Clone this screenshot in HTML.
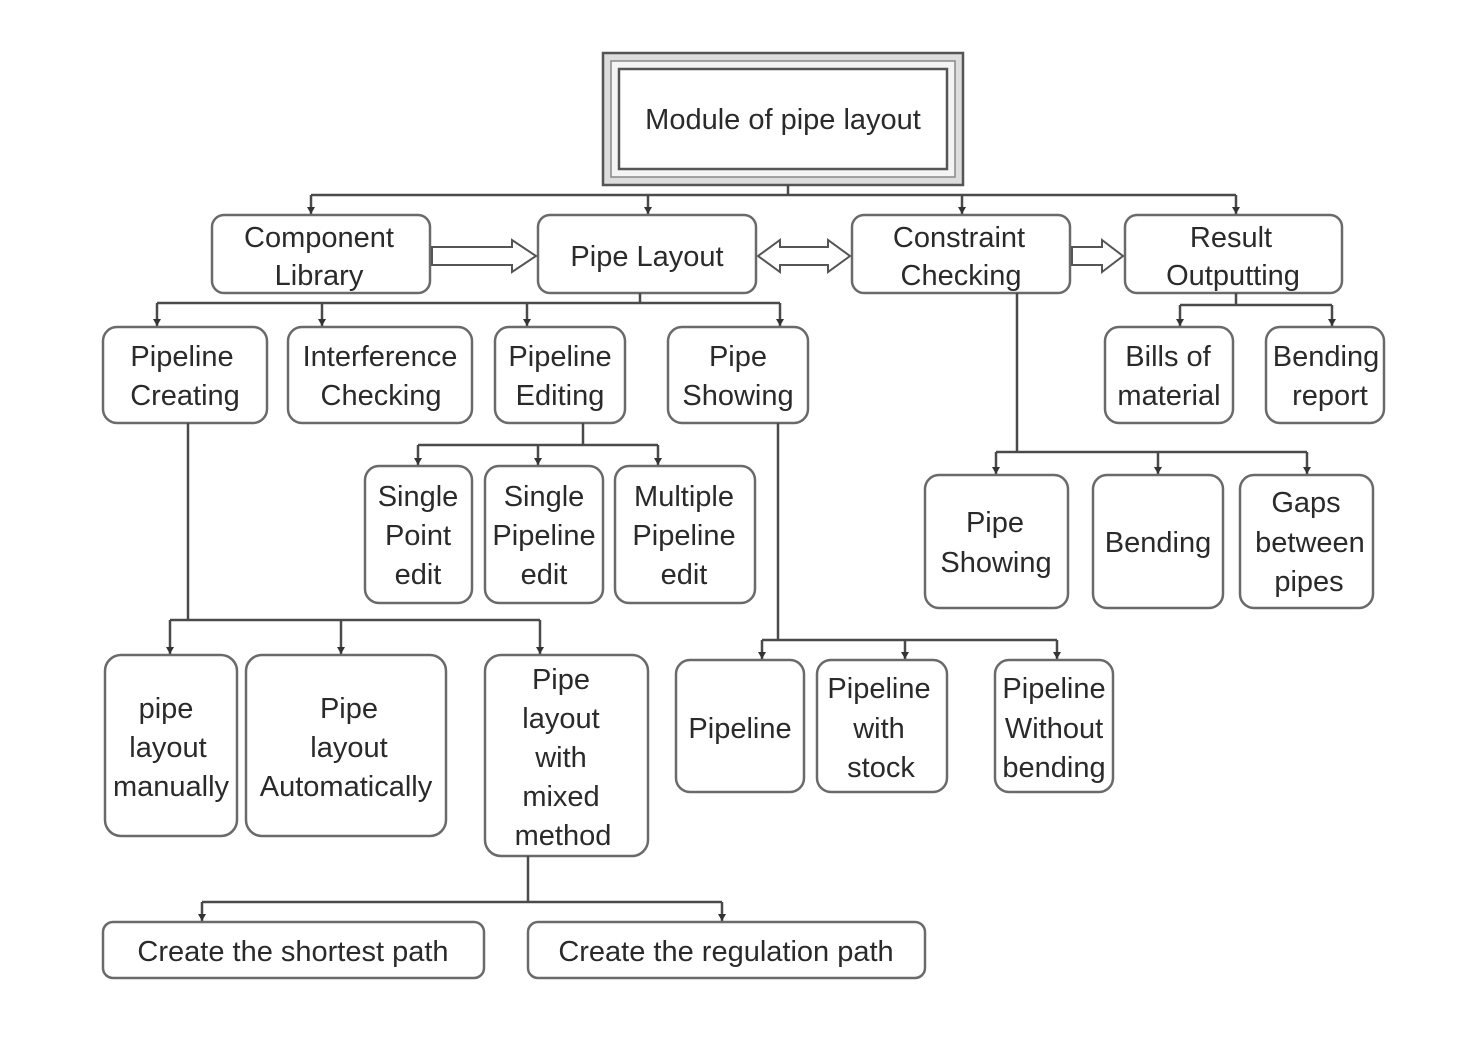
<!DOCTYPE html>
<html><head><meta charset="utf-8"><style>
html,body{margin:0;padding:0;background:#fff}
svg{display:block}
text{font-family:"Liberation Sans",sans-serif;font-size:29px;fill:#2a2a2a;text-anchor:middle}
.b{fill:#fff;stroke:#6a6a6a;stroke-width:2.5}
.l{stroke:#4a4a4a;stroke-width:2.5;fill:none}
.a{fill:#333}
</style></head><body>
<svg width="1464" height="1040" viewBox="0 0 1464 1040" xmlns="http://www.w3.org/2000/svg">
<defs><marker id="m" markerWidth="8" markerHeight="8" refX="7" refY="4" orient="auto" markerUnits="userSpaceOnUse"><path d="M0,0 L7,4 L0,8 z" class="a"/></marker></defs>
<rect x="603" y="53" width="360" height="132" fill="#ddd" stroke="#555" stroke-width="2.5"/>
<rect x="611" y="61" width="344" height="116" fill="#f4f4f4" stroke="#888" stroke-width="1.5"/>
<rect x="619" y="69" width="328" height="100" fill="#fff" stroke="#555" stroke-width="2.5"/>
<text x="783" y="129">Module of pipe layout</text>
<path class="l" d="M788 185V195M311 195H1236"/>
<path class="l" d="M311 195V214" marker-end="url(#m)"/>
<path class="l" d="M648 195V214" marker-end="url(#m)"/>
<path class="l" d="M962 195V214" marker-end="url(#m)"/>
<path class="l" d="M1236 195V214" marker-end="url(#m)"/>
<rect class="b" x="212" y="215" width="218" height="78" rx="12"/>
<text x="319" y="247">Component</text><text x="319" y="285">Library</text>
<rect class="b" x="538" y="215" width="218" height="78" rx="12"/>
<text x="647" y="266">Pipe Layout</text>
<rect class="b" x="852" y="215" width="218" height="78" rx="12"/>
<text x="959" y="247">Constraint</text><text x="961" y="285">Checking</text>
<rect class="b" x="1125" y="215" width="217" height="78" rx="12"/>
<text x="1231" y="247">Result</text><text x="1233" y="285">Outputting</text>
<polygon points="432,247 512,247 512,240 536,256 512,272 512,265 432,265" fill="#fff" stroke="#555" stroke-width="2"/>
<polygon points="758,256 780,240 780,247 828,247 828,240 850,256 828,272 828,265 780,265 780,272" fill="#fff" stroke="#555" stroke-width="2"/>
<polygon points="1072,247 1102,247 1102,240 1123,256 1102,272 1102,265 1072,265" fill="#fff" stroke="#555" stroke-width="2"/>
<path class="l" d="M640 293V303M157 303H780"/>
<path class="l" d="M157 303V326" marker-end="url(#m)"/>
<path class="l" d="M322 303V326" marker-end="url(#m)"/>
<path class="l" d="M527 303V326" marker-end="url(#m)"/>
<path class="l" d="M780 303V326" marker-end="url(#m)"/>
<rect class="b" x="103" y="327" width="164" height="96" rx="14"/>
<text x="182" y="366">Pipeline</text><text x="185" y="405">Creating</text>
<rect class="b" x="288" y="327" width="184" height="96" rx="14"/>
<text x="380" y="366">Interference</text><text x="381" y="405">Checking</text>
<rect class="b" x="495" y="327" width="130" height="96" rx="14"/>
<text x="560" y="366">Pipeline</text><text x="560" y="405">Editing</text>
<rect class="b" x="668" y="327" width="140" height="96" rx="14"/>
<text x="738" y="366">Pipe</text><text x="738" y="405">Showing</text>
<path class="l" d="M1236 293V305M1180 305H1332"/>
<path class="l" d="M1180 305V326" marker-end="url(#m)"/>
<path class="l" d="M1332 305V326" marker-end="url(#m)"/>
<rect class="b" x="1105" y="327" width="128" height="96" rx="14"/>
<text x="1168" y="366">Bills of</text><text x="1169" y="405">material</text>
<rect class="b" x="1266" y="327" width="118" height="96" rx="14"/>
<text x="1326" y="366">Bending</text><text x="1330" y="405">report</text>
<path class="l" d="M583 423V445M418 445H658"/>
<path class="l" d="M418 445V465" marker-end="url(#m)"/>
<path class="l" d="M538 445V465" marker-end="url(#m)"/>
<path class="l" d="M658 445V465" marker-end="url(#m)"/>
<rect class="b" x="365" y="466" width="107" height="137" rx="14"/>
<text x="418" y="506">Single</text><text x="418" y="545">Point</text><text x="418" y="584">edit</text>
<rect class="b" x="485" y="466" width="118" height="137" rx="14"/>
<text x="544" y="506">Single</text><text x="544" y="545">Pipeline</text><text x="544" y="584">edit</text>
<rect class="b" x="615" y="466" width="140" height="137" rx="14"/>
<text x="684" y="506">Multiple</text><text x="684" y="545">Pipeline</text><text x="684" y="584">edit</text>
<path class="l" d="M1017 293V452M996 452H1307"/>
<path class="l" d="M996 452V474" marker-end="url(#m)"/>
<path class="l" d="M1158 452V474" marker-end="url(#m)"/>
<path class="l" d="M1307 452V474" marker-end="url(#m)"/>
<rect class="b" x="925" y="475" width="143" height="133" rx="14"/>
<text x="995" y="532">Pipe</text><text x="996" y="572">Showing</text>
<rect class="b" x="1093" y="475" width="130" height="133" rx="14"/>
<text x="1158" y="552">Bending</text>
<rect class="b" x="1240" y="475" width="133" height="133" rx="14"/>
<text x="1306" y="512">Gaps</text><text x="1310" y="552">between</text><text x="1309" y="591">pipes</text>
<path class="l" d="M188 423V620M170 620H540"/>
<path class="l" d="M170 620V654" marker-end="url(#m)"/>
<path class="l" d="M341 620V654" marker-end="url(#m)"/>
<path class="l" d="M540 620V654" marker-end="url(#m)"/>
<rect class="b" x="105" y="655" width="132" height="181" rx="16"/>
<text x="166" y="718">pipe</text><text x="168" y="757">layout</text><text x="171" y="796">manually</text>
<rect class="b" x="246" y="655" width="200" height="181" rx="16"/>
<text x="349" y="718">Pipe</text><text x="349" y="757">layout</text><text x="346" y="796">Automatically</text>
<rect class="b" x="485" y="655" width="163" height="201" rx="16"/>
<text x="561" y="689">Pipe</text><text x="561" y="728">layout</text><text x="561" y="767">with</text><text x="561" y="806">mixed</text><text x="563" y="845">method</text>
<path class="l" d="M778 423V640M762 640H1057"/>
<path class="l" d="M762 640V659" marker-end="url(#m)"/>
<path class="l" d="M905 640V659" marker-end="url(#m)"/>
<path class="l" d="M1057 640V659" marker-end="url(#m)"/>
<rect class="b" x="676" y="660" width="128" height="132" rx="14"/>
<text x="740" y="738">Pipeline</text>
<rect class="b" x="817" y="660" width="130" height="132" rx="14"/>
<text x="879" y="698">Pipeline</text><text x="879" y="738">with</text><text x="881" y="777">stock</text>
<rect class="b" x="995" y="660" width="118" height="132" rx="14"/>
<text x="1054" y="698">Pipeline</text><text x="1054" y="738">Without</text><text x="1054" y="777">bending</text>
<path class="l" d="M528 856V902M202 902H722"/>
<path class="l" d="M202 902V921" marker-end="url(#m)"/>
<path class="l" d="M722 902V921" marker-end="url(#m)"/>
<rect class="b" x="103" y="922" width="381" height="56" rx="10"/>
<text x="293" y="961">Create the shortest path</text>
<rect class="b" x="528" y="922" width="397" height="56" rx="10"/>
<text x="726" y="961">Create the regulation path</text>
</svg>
</body></html>
